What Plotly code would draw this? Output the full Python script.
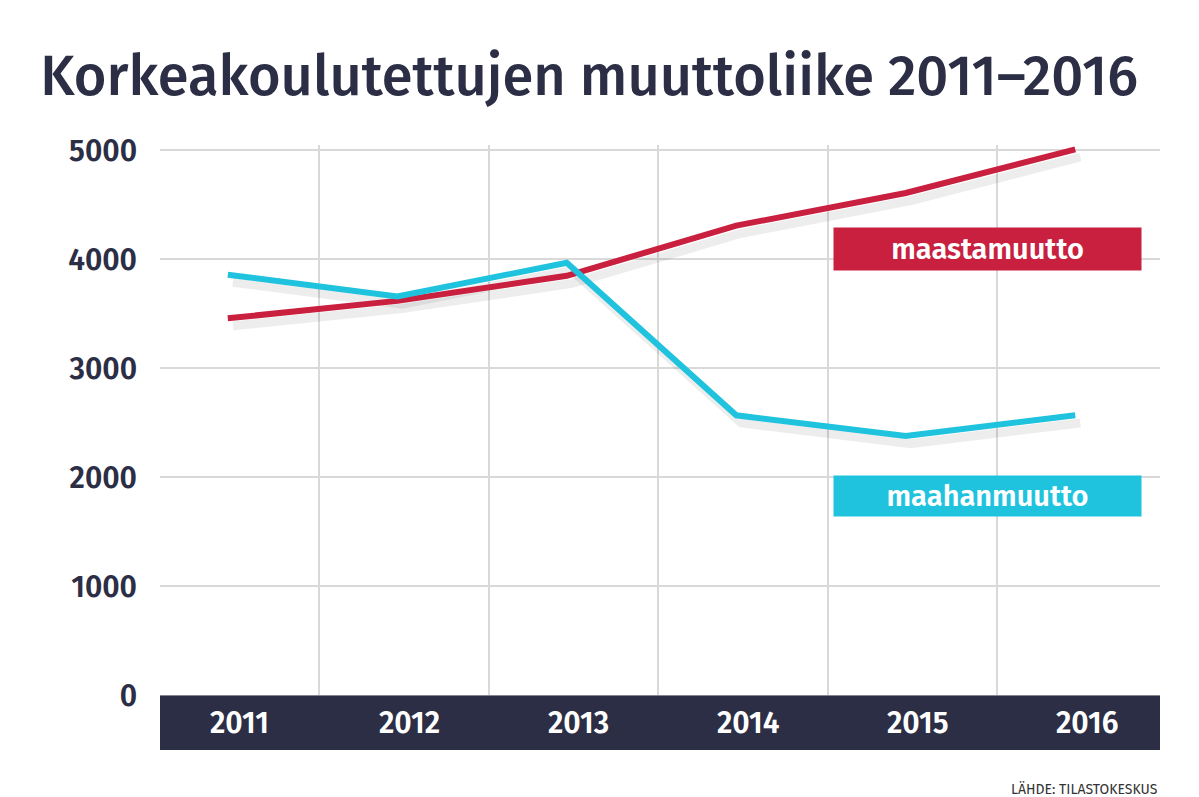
import plotly.graph_objects as go

years = ["2011", "2012", "2013", "2014", "2015", "2016"]
maastamuutto = [3460, 3620, 3850, 4310, 4610, 5010]
maahanmuutto = [3860, 3660, 3970, 2570, 2380, 2570]
y_ticks = [0, 1000, 2000, 3000, 4000, 5000]

RED = "#c8203e"
CYAN = "#1fc3de"
DARK = "#2c2e45"
FONT = "Fira Sans, Open Sans, sans-serif"
xs = list(range(len(years)))

fig = go.Figure()
for vals in (maastamuutto, maahanmuutto):
    fig.add_trace(go.Scatter(x=[x + 0.03 for x in xs], y=[v - 70 for v in vals], mode="lines",
                             line=dict(color="rgba(0,0,0,0.07)", width=9), hoverinfo="skip"))
fig.add_trace(go.Scatter(x=xs, y=maastamuutto, mode="lines", line=dict(color=RED, width=6)))
fig.add_trace(go.Scatter(x=xs, y=maahanmuutto, mode="lines", line=dict(color=CYAN, width=6)))

fig.add_shape(type="rect", xref="paper", yref="y", x0=0, x1=1, y0=-500, y1=0,
              fillcolor=DARK, line_width=0, layer="above")
for i, yr in enumerate(years):
    fig.add_annotation(x=i + 0.07, y=-250, text=yr, showarrow=False,
                       font=dict(color="white", size=30, family=FONT, weight=600))

fig.add_annotation(x=4.48, y=4100, text="maastamuutto", showarrow=False, xanchor="center",
                   bgcolor=RED, font=dict(color="white", size=29, family=FONT, weight=600),
                   width=305, height=40)
fig.add_annotation(x=4.48, y=1830, text="maahanmuutto", showarrow=False, xanchor="center",
                   bgcolor=CYAN, font=dict(color="white", size=29, family=FONT, weight=600),
                   width=305, height=38)

fig.add_annotation(xref="paper", yref="paper", x=1.0, y=-0.065, xanchor="right", yanchor="middle",
                   text="LÄHDE: TILASTOKESKUS", showarrow=False,
                   font=dict(color="#333", size=14, family=FONT))

fig.update_layout(
    width=1199, height=797, paper_bgcolor="white", plot_bgcolor="white",
    showlegend=False,
    margin=dict(l=152, r=47, t=137, b=55, autoexpand=False),
    title=dict(text="Korkeakoulutettujen muuttoliike 2011–2016", x=0.027, xanchor="left",
               y=0.915, yanchor="middle",
               font=dict(size=56, color=DARK, family=FONT, weight=500)),
    xaxis=dict(range=[-0.4, 5.5], tickvals=[x + 0.54 for x in xs], showticklabels=False,
               showgrid=True, gridcolor="#d9d9d9", gridwidth=2, zeroline=False, automargin=False),
    yaxis=dict(range=[-500, 5050], tickvals=y_ticks, ticktext=[str(v) for v in y_ticks],
               showgrid=True, gridcolor="#d9d9d9", gridwidth=2, zeroline=False, automargin=False,
               tickfont=dict(size=30, color=DARK, family=FONT, weight=600), ticklabelstandoff=22),
)
fig.write_html("out.html")
